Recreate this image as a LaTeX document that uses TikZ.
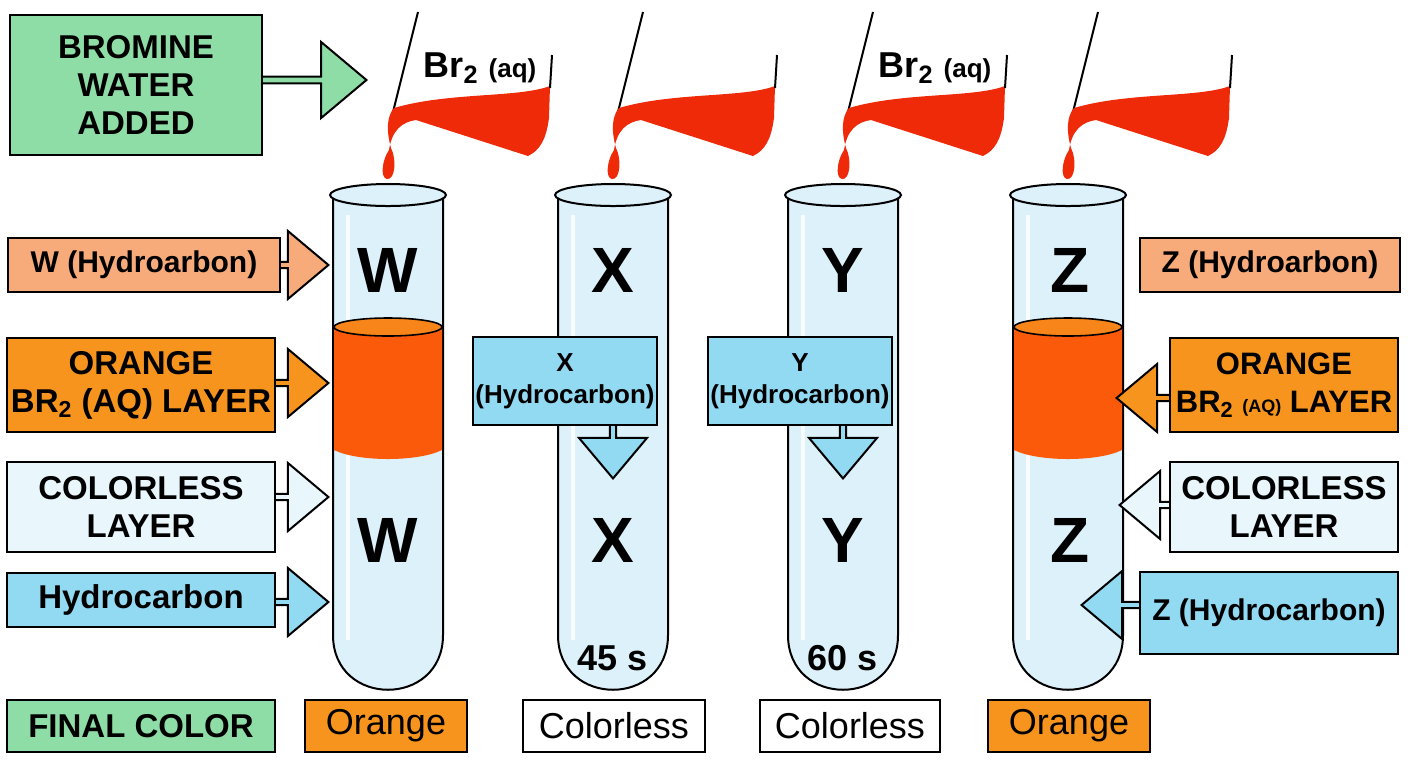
\documentclass[tikz,border=0pt]{standalone}
\usepackage{fontspec}
\setmainfont{Liberation Sans}
\usetikzlibrary{shapes.arrows}

\definecolor{boxgreen}{HTML}{8EDDA6}
\definecolor{boxorange}{HTML}{F7941D}
\definecolor{boxpeach}{HTML}{F7AA7A}
\definecolor{boxpale}{HTML}{E9F6FC}
\definecolor{boxblue}{HTML}{92D9F2}
\definecolor{glass}{HTML}{DDF1FA}
\definecolor{brred}{HTML}{EE2A08}
\definecolor{layerorange}{HTML}{FB5A0A}

\tikzset{
  label box/.style = {draw=black, line width=1pt, align=center, inner sep=2pt,
                      font=\bfseries\fontsize{16.5}{19}\selectfont},
  small box/.style = {label box, font=\bfseries\fontsize{15}{17}\selectfont},
  final box/.style = {label box, font=\fontsize{18}{20}\selectfont},
  blk/.style = {single arrow, draw=black, line width=1pt, minimum width=34pt,
                single arrow head extend=5pt, single arrow tip angle=80,
                inner sep=0pt, anchor=tip},
  letter/.style = {font=\bfseries\fontsize{32}{32}\selectfont},
}

\begin{document}
\begin{tikzpicture}[x=0.5pt, y=-0.5pt]
            \useasboundingbox (0,0) rectangle (1408,768);

            % pourers
            \foreach \c in {388, 613, 843, 1068} {
                \draw[line width=1pt] ({\c+30},12) -- ({\c+4},116);
                \fill[brred] ({\c+6},108) .. controls ({\c+60},92) and ({\c+130},98) .. ({\c+162},86)
                    -- ({\c+161},118) .. controls ({\c+158},140) and ({\c+152},150) .. ({\c+140},156)
                    -- ({\c+28},120) .. controls ({\c+14},122) and ({\c+4},130) .. ({\c+1},150)
                    .. controls ({\c-6},160) and ({\c-8},178) .. ({\c-1},179)
                    .. controls ({\c+7},180) and ({\c+9},160) .. ({\c+3},148)
                    .. controls ({\c-2},130) and ({\c-1},116) .. ({\c+6},108) -- cycle;
                \draw[line width=1pt] ({\c+164},55) -- ({\c+162},88);
            }
            \node[font=\bfseries\fontsize{18}{20}\selectfont] (br_w) at (480,68) {Br\textsubscript{2} {\fontsize{13}{15}\selectfont(aq)}};
            \node[font=\bfseries\fontsize{18}{20}\selectfont] (br_y) at (935,68) {Br\textsubscript{2} {\fontsize{13}{15}\selectfont(aq)}};

            % tubes
            \foreach \c in {388, 613, 843, 1068} {
                \draw[line width=1pt, fill=glass] ({\c-55},195) -- ({\c-55},635)
                    .. controls ({\c-55},708) and ({\c+55},708) .. ({\c+55},635) -- ({\c+55},195);
                \draw[white, line width=2pt, opacity=0.8] ({\c-40},215) -- ({\c-40},640);
            }
            \foreach \c in {388, 1068} {
                \fill[layerorange] ({\c-54},327) -- ({\c-54},450) .. controls ({\c-30},462) and ({\c+30},462) .. ({\c+54},450) -- ({\c+54},327) -- cycle;
                \draw[line width=0.8pt, fill=boxorange!90!red] (\c,327) ellipse [x radius=27pt, y radius=4.5pt];
            }
            \foreach \c in {388, 613, 843, 1068}
                \draw[line width=1pt, fill=glass] (\c,195) ellipse [x radius=29pt, y radius=5.5pt];

            \node[letter] (w_top) at (388,270) {W};
            \node[letter] (w_bot) at (388,540) {W};
            \node[letter] (x_top) at (613,270) {X};
            \node[letter] (x_bot) at (613,540) {X};
            \node[letter] (y_top) at (843,270) {Y};
            \node[letter] (y_bot) at (843,540) {Y};
            \node[letter] (z_top) at (1070,270) {Z};
            \node[letter] (z_bot) at (1070,540) {Z};
            \node[font=\bfseries\fontsize{18}{18}\selectfont] (t_x) at (613,658) {45 s};
            \node[font=\bfseries\fontsize{18}{18}\selectfont] (t_y) at (843,658) {60 s};

            % block arrows
            \coordinate (a_br) at (368,80);
            \coordinate (a_w) at (330,265);
            \coordinate (a_or) at (330,383);
            \coordinate (a_cl) at (330,497);
            \coordinate (a_hc) at (330,602);
            \node[blk, fill=boxgreen, minimum height=60pt, minimum width=38pt] at (a_br) {};
            \node[blk, fill=boxpeach, minimum height=32pt] at (a_w) {};
            \node[blk, fill=boxorange, minimum height=32pt] at (a_or) {};
            \node[blk, fill=boxpale, minimum height=32pt] at (a_cl) {};
            \node[blk, fill=boxblue, minimum height=32pt] at (a_hc) {};
            \node[blk, fill=boxblue, minimum height=38pt, shape border rotate=270] at (613,480) {};
            \node[blk, fill=boxblue, minimum height=38pt, shape border rotate=270] at (843,480) {};
            \node[blk, fill=boxorange, minimum height=32pt, shape border rotate=180] at (1115,398) {};
            \node[blk, fill=boxpale, minimum height=32pt, shape border rotate=180] at (1118,505) {};
            \node[blk, fill=boxblue, minimum height=36pt, shape border rotate=180] at (1080,605) {};

            % label boxes
            \node[label box, fill=boxgreen, minimum width=126pt, minimum height=70pt] (bromine) at (136,85) {BROMINE\\WATER\\ADDED};
            \node[small box, fill=boxpeach, minimum width=136pt, minimum height=27pt] (lbl_w) at (144,265) {W (Hydroarbon)};
            \node[label box, fill=boxorange, minimum width=134pt, minimum height=47pt] (lbl_or) at (141,385) {ORANGE\\BR\textsubscript{2} (AQ) LAYER};
            \node[label box, fill=boxpale, minimum width=134pt, minimum height=45pt] (lbl_cl) at (141,507) {COLORLESS\\LAYER};
            \node[label box, fill=boxblue, minimum width=134pt, minimum height=27pt] (lbl_hc) at (141,600) {Hydrocarbon};
            \node[small box, font=\bfseries\fontsize{13}{16}\selectfont, inner sep=1pt, fill=boxblue, minimum width=92pt, minimum height=44pt] (lbl_x) at (565,381) {X\\(Hydrocarbon)};
            \node[small box, font=\bfseries\fontsize{13}{16}\selectfont, inner sep=1pt, fill=boxblue, minimum width=88pt, minimum height=44pt] (lbl_y) at (800,381) {Y\\(Hydrocarbon)};
            \node[small box, fill=boxpeach, minimum width=130pt, minimum height=27pt] (lbl_z) at (1270,265) {Z (Hydroarbon)};
            \node[label box, font=\bfseries\fontsize{15.5}{19}\selectfont, fill=boxorange, minimum width=114pt, minimum height=47pt] (lbl_zor) at (1284,385) {ORANGE\\BR\textsubscript{2} {\small(AQ)} LAYER};
            \node[label box, fill=boxpale, minimum width=114pt, minimum height=45pt] (lbl_zcl) at (1284,507) {COLORLESS\\LAYER};
            \node[small box, fill=boxblue, minimum width=129pt, minimum height=41pt] (lbl_zhc) at (1269,613) {Z (Hydrocarbon)};

            % final colour row
            \node[label box, fill=boxgreen, minimum width=134pt, minimum height=26pt] (final) at (141,726) {FINAL COLOR};
            \node[final box, fill=boxorange, minimum width=81pt, minimum height=26pt] (fin_w) at (386,726) {Orange};
            \node[final box, fill=white, minimum width=91pt, minimum height=26pt] (fin_x) at (614,726) {Colorless};
            \node[final box, fill=white, minimum width=90pt, minimum height=26pt] (fin_y) at (850,726) {Colorless};
            \node[final box, fill=boxorange, minimum width=81pt, minimum height=26pt] (fin_z) at (1069,726) {Orange};
\end{tikzpicture}
\end{document}
